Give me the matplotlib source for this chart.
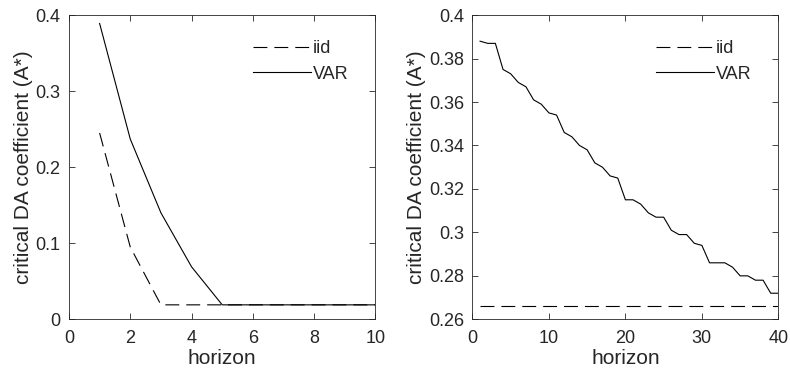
import matplotlib
matplotlib.use("Agg")
import matplotlib.pyplot as plt
from matplotlib.ticker import FuncFormatter

plt.rcParams['font.family'] = ['Liberation Sans', 'DejaVu Sans']

# Left panel data
h_left = [1, 2, 3, 4, 5, 6, 7, 8, 9, 10]
iid_left = [0.245, 0.095, 0.019, 0.019, 0.019, 0.019, 0.019, 0.019, 0.019, 0.019]
var_left = [0.389, 0.237, 0.140, 0.069, 0.019, 0.019, 0.019, 0.019, 0.019, 0.019]

# Right panel data
h_right = list(range(1, 41))
iid_right = [0.266] * 40
var_right = [0.388, 0.387, 0.387, 0.375, 0.373, 0.369, 0.367, 0.361, 0.359, 0.355,
             0.354, 0.346, 0.344, 0.340, 0.338, 0.332, 0.330, 0.326, 0.325, 0.315,
             0.315, 0.313, 0.309, 0.307, 0.307, 0.301, 0.299, 0.299, 0.295, 0.294,
             0.286, 0.286, 0.286, 0.284, 0.280, 0.280, 0.278, 0.278, 0.272, 0.272]

xticks_left = [0, 2, 4, 6, 8, 10]
yticks_left = [0, 0.1, 0.2, 0.3, 0.4]
xticks_right = [0, 10, 20, 30, 40]
yticks_right = [0.26, 0.28, 0.30, 0.32, 0.34, 0.36, 0.38, 0.40]

fig = plt.figure(figsize=(7.9, 3.76), dpi=100)
ax1 = fig.add_axes([0.0873, 0.1508, 0.388, 0.809])
ax2 = fig.add_axes([0.598, 0.1508, 0.3873, 0.809])

gray = '#262626'
dash = (0, (12.5, 6.3))
fmt = FuncFormatter(lambda v, p: ('%g' % round(v, 4)))

def style(ax, xt, yt, xl, yl):
    ax.set_xlim(*xl)
    ax.set_ylim(*yl)
    ax.set_xticks(xt)
    ax.set_yticks(yt)
    ax.xaxis.set_major_formatter(fmt)
    ax.yaxis.set_major_formatter(fmt)
    ax.tick_params(direction='in', top=True, right=True, length=4, width=0.6,
                   colors=gray, labelsize=13)
    ax.tick_params(axis='x', pad=8)
    ax.tick_params(axis='y', pad=6)
    for s in ax.spines.values():
        s.set_color(gray)
        s.set_linewidth(0.6)
    ax.set_xlabel('horizon', fontsize=15, color=gray, labelpad=1)
    ax.set_ylabel('critical DA coefficient (A*)', fontsize=15, color=gray, labelpad=2)
    leg = ax.legend(loc='upper right', frameon=False, handlelength=3.2,
                    handletextpad=0.1, fontsize=13, labelspacing=0.45,
                    bbox_to_anchor=(0.965, 0.97))
    for t in leg.get_texts():
        t.set_color(gray)

ax1.plot(h_left, iid_left, color='black', lw=0.8, linestyle=dash, label='iid')
ax1.plot(h_left, var_left, color='black', lw=0.8, label='VAR')
style(ax1, xticks_left, yticks_left, (0, 10), (0, 0.4))

ax2.plot(h_right, iid_right, color='black', lw=0.8, linestyle=dash, label='iid')
ax2.plot(h_right, var_right, color='black', lw=0.8, label='VAR')
style(ax2, xticks_right, yticks_right, (0, 40), (0.26, 0.4))

fig.savefig('out.png', dpi=100)
